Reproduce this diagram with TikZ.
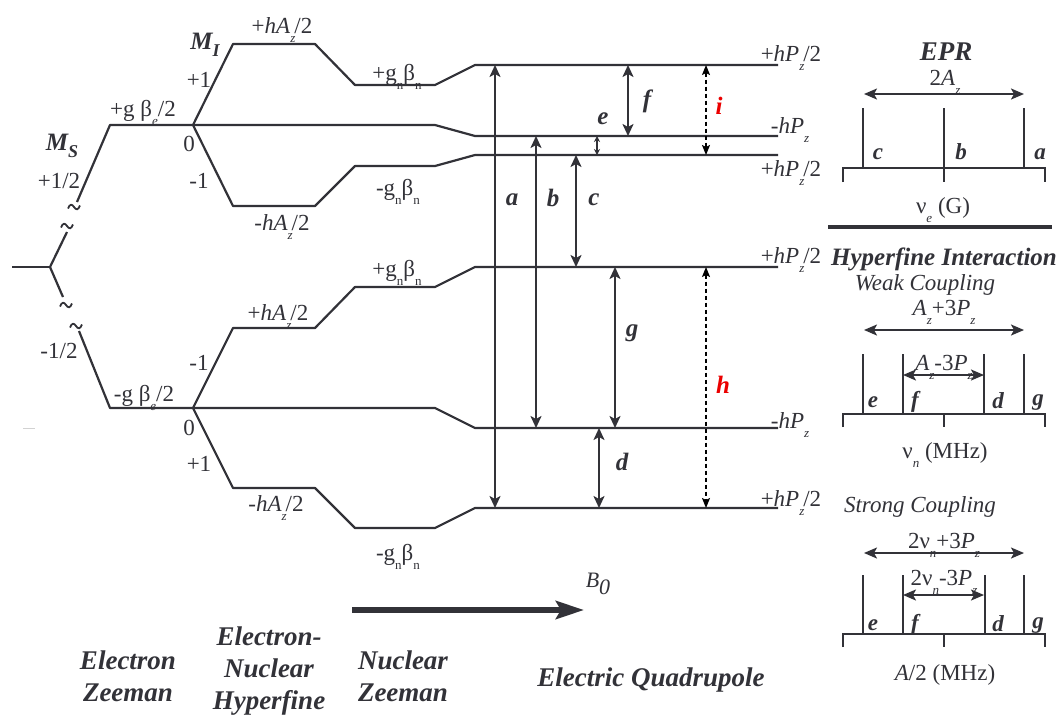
\documentclass[tikz,border=0pt]{standalone}
\usepackage{fontspec}
\setmainfont{Liberation Serif}
\usetikzlibrary{arrows.meta}
\definecolor{lc}{RGB}{50,50,56}
\definecolor{rd}{RGB}{235,0,0}
\newcommand{\sbs}[1]{\raisebox{-0.42em}{\fontsize{13}{13}\selectfont #1}}
\begin{document}
\begin{tikzpicture}[x=1pt,y=-1pt,
  lvl/.style={line width=2.2pt, draw=lc, line join=round},
  thinl/.style={line width=2pt, draw=lc},
  tr/.style={line width=2pt, draw=lc, {Stealth[length=12pt,width=11pt,inset=3pt]}-{Stealth[length=12pt,width=11pt,inset=3pt]}},
  trs/.style={line width=1.4pt, draw=lc, {Stealth[length=6pt,width=6pt]}-{Stealth[length=6pt,width=6pt]}},
  dtr/.style={line width=1.4pt, draw=black, dash pattern=on 4pt off 3pt, {Stealth[length=10pt,width=8pt,inset=2pt]}-{Stealth[length=10pt,width=8pt,inset=2pt]}},
  sp/.style={line width=2pt, draw=lc, {Stealth[length=13pt,width=11pt,inset=3pt]}-{Stealth[length=13pt,width=11pt,inset=3pt]}},
  lab/.style={font=\fontsize{23}{25}\selectfont, text=lc, inner sep=0pt, anchor=base},
  ilab/.style={font=\fontsize{23}{25}\selectfont\itshape, text=lc, inner sep=0pt},
  bl/.style={font=\fontsize{27}{32}\selectfont\bfseries\itshape, text=lc, inner sep=0pt, align=center},
  tl/.style={font=\fontsize{25}{27}\selectfont\bfseries\itshape, text=lc, inner sep=0pt},
  pl/.style={font=\fontsize{23}{25}\selectfont\bfseries\itshape, text=lc, inner sep=0pt},
  tilde/.pic={\draw[line width=1.8pt, lc] (-6,1.5) .. controls (-4,-3.5) and (-2,-3) .. (0,0) .. controls (2,3) and (4,3.5) .. (6,-1.5);}
]
\useasboundingbox[fill=white] (0,0) rectangle (1058,716);

% ---------- electron Zeeman ----------
\coordinate (R) at (50,267);
\coordinate (Up) at (193,125);
\coordinate (Dn) at (193,408);
\draw[lvl] (12,267) -- (R);
\draw[lvl] (R) -- (67,232);
\pic at (67,226) {tilde};
\pic at (74,207) {tilde};
\draw[lvl] (77,202) -- (110,125) -- (Up);
\draw[lvl] (R) -- (63,297);
\pic at (66,305) {tilde};
\pic at (76,326) {tilde};
\draw[lvl] (79,331) -- (110,408) -- (Dn);
\draw[gray!35, line width=1pt] (23,428) -- (35,428);

% ---------- level coordinates ----------
\coordinate (L1) at (778,65);
\coordinate (L2) at (778,136);
\coordinate (L3) at (778,155);
\coordinate (L4) at (778,267);
\coordinate (L5) at (778,428);
\coordinate (L6) at (778,508);

% ---------- hyperfine, nuclear Zeeman, quadrupole ----------
\draw[lvl] (Up) -- (233,44) -- (315,44) -- (355,85) -- (435,85) -- (475,65) -- (L1);
\draw[lvl] (Up) -- (435,125) -- (475,136) -- (L2);
\draw[lvl] (Up) -- (233,206) -- (315,206) -- (355,166) -- (435,166) -- (475,155) -- (L3);
\draw[lvl] (Dn) -- (233,328) -- (315,328) -- (355,287) -- (435,287) -- (475,267) -- (L4);
\draw[lvl] (Dn) -- (435,408) -- (475,428) -- (L5);
\draw[lvl] (Dn) -- (233,488) -- (315,488) -- (355,528) -- (435,528) -- (475,508) -- (L6);

% ---------- transitions ----------
\coordinate (xa) at (495,0);
\coordinate (xb) at (536,0);
\coordinate (xc) at (576,0);
\coordinate (xe) at (597,0);
\coordinate (xd) at (599,0);
\coordinate (xg) at (615,0);
\coordinate (xf) at (628,0);
\coordinate (xi) at (706,0);
\draw[tr] (xa |- L6) -- (xa |- L1);
\draw[tr] (xb |- L2) -- (xb |- L5);
\draw[tr] (xc |- L3) -- (xc |- L4);
\draw[tr] (xd |- L5) -- (xd |- L6);
\draw[trs] (xe |- L2) -- (xe |- L3);
\draw[tr] (xf |- L1) -- (xf |- L2);
\draw[tr] (xg |- L4) -- (xg |- L5);
\draw[dtr] (xi |- L1) -- (xi |- L3);
\draw[dtr] (xi |- L4) -- (xi |- L6);

\node[tl] (la) at (512,200) {a};
\node[tl] (lb) at (553,198) {b};
\node[tl] (lc) at (594,200) {c};
\node[tl] (ld) at (622,462) {d};
\node[tl] (le) at (603,119) {e};
\node[tl] (lf) at (647,101) {f};
\node[tl] (lg) at (632,333) {g};
\node[tl, text=rd] (lh) at (723,385) {h};
\node[tl, text=rd] (li) at (719,106) {i};

% ---------- labels on the left ----------
\node[tl] (MS) at (62,146) {M\raisebox{-0.3em}{\fontsize{18}{18}\selectfont S}};
\node[tl] (MI) at (205,45) {M\raisebox{-0.3em}{\fontsize{18}{18}\selectfont I}};
\node[lab] (s1) at (59,188) {+1/2};
\node[lab] (s2) at (59,358) {-1/2};
\node[lab] (ge1) at (143,116) {+g β\sbs{\textit{e}}/2};
\node[lab] (ge2) at (144,401) {-g β\sbs{\textit{e}}/2};
\node[lab] (m1) at (199,87) {+1};
\node[lab] (m2) at (189,151) {0};
\node[lab] (m3) at (199,188) {-1};
\node[lab] (m4) at (199,370) {-1};
\node[lab] (m5) at (189,435) {0};
\node[lab] (m6) at (199,471) {+1};
\node[lab] (ha1) at (282,33) {+\textit{hA}\sbs{\textit{z}}\kern-1pt/2};
\node[lab] (ha2) at (282,230) {-\textit{hA}\sbs{\textit{z}}\kern-1pt/2};
\node[lab] (ha3) at (278,320) {+\textit{hA}\sbs{\textit{z}}\kern-1pt/2};
\node[lab] (ha4) at (276,511) {-\textit{hA}\sbs{\textit{z}}\kern-1pt/2};
\node[lab] (gn1) at (397,80) {+g\sbs{n}β\sbs{n}};
\node[lab] (gn2) at (398,195) {-g\sbs{n}β\sbs{n}};
\node[lab] (gn3) at (397,276) {+g\sbs{n}β\sbs{n}};
\node[lab] (gn4) at (398,560) {-g\sbs{n}β\sbs{n}};

% ---------- labels of the levels ----------
\node[lab] (p1) at (791,61) {+\textit{hP}\sbs{\textit{z}}\kern-1pt/2};
\node[lab] (p2) at (790,133) {-\textit{hP}\sbs{\textit{z}}};
\node[lab] (p3) at (791,176) {+\textit{hP}\sbs{\textit{z}}\kern-1pt/2};
\node[lab] (p4) at (791,263) {+\textit{hP}\sbs{\textit{z}}\kern-1pt/2};
\node[lab] (p5) at (790,428) {-\textit{hP}\sbs{\textit{z}}};
\node[lab] (p6) at (791,506) {+\textit{hP}\sbs{\textit{z}}\kern-1pt/2};

% ---------- B0 ----------
\coordinate (B1) at (352,610);
\coordinate (B2) at (584,610);
\draw[line width=6pt, draw=lc, -{Stealth[length=28pt,width=18pt,inset=5pt]}] (B1) -- (B2);
\node[ilab, font=\fontsize{22}{24}\selectfont\itshape] (B0) at (598,584) {B\raisebox{-0.3em}{0}};

% ---------- bottom titles ----------
\node[bl] (t1) at (128,676) {Electron\\Zeeman};
\node[bl] (t2) at (269,671) {Electron-\\Nuclear\\Hyperfine};
\node[bl] (t3) at (403,676) {Nuclear\\Zeeman};
\node[bl] (t4) at (651,680) {Electric Quadrupole};

% ---------- EPR ----------
\node[tl, font=\fontsize{27}{29}\selectfont\bfseries\itshape] (epr) at (946,52) {EPR};
\node[lab] (az2) at (945,85) {2\textit{A}\sbs{\textit{z}}};
\coordinate (e1) at (863,168); \coordinate (e2) at (944,168); \coordinate (e3) at (1024,168);
\coordinate (eL) at (843,168); \coordinate (eR) at (1045,168);
\draw[sp] (864,94) -- (1024,94);
\draw[thinl] (e1) -- ++(0,-60);
\draw[thinl] (e3) -- ++(0,-60);
\draw[thinl] (944,108) -- (944,182);
\draw[thinl] (843,182) -- (eL) -- (eR) -- (1045,182);
\node[pl] (ec) at (878,154) {c};
\node[pl] (eb) at (961,152) {b};
\node[pl] (ea) at (1040,154) {a};
\node[lab] (nue) at (943,213) {ν\sbs{\textit{e}} (G)};
\draw[line width=4pt, draw=lc] (828,227) -- (1052,227);
\node[tl] (hfi) at (944,259) {Hyperfine Interaction};
\node[ilab] (wc) at (925,285) {Weak Coupling};

% ---------- weak coupling ----------
\node[lab] (w1) at (944,315) {\textit{A}\sbs{\textit{z}}+3\textit{P}\sbs{\textit{z}}};
\draw[sp] (864,330) -- (1024,330);
\node[lab] (w2) at (944,370) {\textit{A}\sbs{\textit{z}}-3\textit{P}\sbs{\textit{z}}};
\draw[sp] (903,375) -- (984,375);
\draw[thinl] (863,354) -- (863,414);
\draw[thinl] (903,354) -- (903,414);
\draw[thinl] (984,354) -- (984,414);
\draw[thinl] (1024,354) -- (1024,414);
\draw[thinl] (843,427) -- (843,414) -- (1045,414) -- (1045,427);
\draw[thinl] (944,414) -- (944,427);
\node[pl] (we) at (873,402) {e};
\node[pl] (wf) at (915,402) {f};
\node[pl] (wd) at (998,401) {d};
\node[pl] (wg) at (1038,403) {g};
\node[lab] (nun) at (945,458) {ν\sbs{\textit{n}} (MHz)};

% ---------- strong coupling ----------
\node[ilab] (sc) at (920,507) {Strong Coupling};
\node[lab] (s21) at (944,548) {2ν\sbs{\textit{n}}+3\textit{P}\sbs{\textit{z}}};
\draw[sp] (864,553) -- (1024,553);
\node[lab] (s22) at (944,585) {2ν\sbs{\textit{n}}-3\textit{P}\sbs{\textit{z}}};
\draw[sp] (903,595) -- (984,595);
\draw[thinl] (863,575) -- (863,634);
\draw[thinl] (903,575) -- (903,634);
\draw[thinl] (985,575) -- (985,634);
\draw[thinl] (1024,575) -- (1024,634);
\draw[thinl] (843,647) -- (843,634) -- (1045,634) -- (1045,647);
\draw[thinl] (944,634) -- (944,647);
\node[pl] (se) at (873,625) {e};
\node[pl] (sf) at (915,625) {f};
\node[pl] (sd) at (998,624) {d};
\node[pl] (sg) at (1038,626) {g};
\node[lab] (a2) at (945,680) {\textit{A}/2 (MHz)};
\end{tikzpicture}
\end{document}
